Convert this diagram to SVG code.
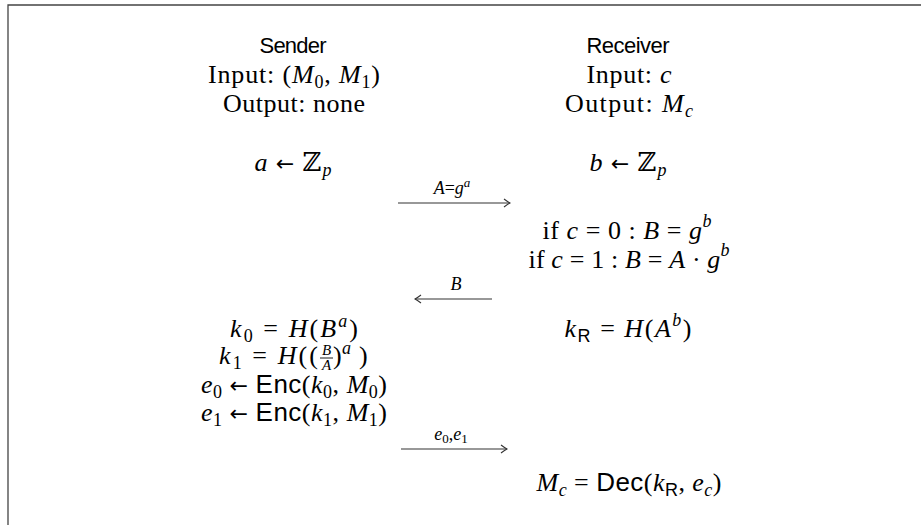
<svg xmlns="http://www.w3.org/2000/svg" width="921" height="525" viewBox="0 0 921 525">
<style>
text{font-family:"Liberation Serif","DejaVu Serif",serif;font-size:26px;fill:#000;text-anchor:middle}
.ss{font-family:"Liberation Sans","DejaVu Sans",sans-serif}
.ar{font-family:"DejaVu Sans",sans-serif;font-size:22px}
.it{font-style:italic}
.sub{font-size:18px}
.lbl{font-size:18px}
.lsub{font-size:13px}
.fr{font-size:15px;font-style:italic}
.st{text-anchor:start}
.arr{stroke:#333;stroke-width:1.1;fill:none}
.frame{stroke:#444;stroke-width:1.3;fill:none}
</style>
<defs>
<marker id="ah" markerWidth="10" markerHeight="10" refX="9" refY="5" orient="auto" markerUnits="userSpaceOnUse">
<path d="M3 1 Q7 4 9 5 Q7 6 3 9" fill="none" stroke="#333" stroke-width="1.1"/>
</marker>
</defs>
<path class="frame" d="M8 525 V5 H921"/>
<g id="sender-header">
<text x="293" y="53" class="ss" style="font-size:22px" textLength="67">Sender</text>
<text x="294" y="83" textLength="172">Input: (<tspan class="it">M</tspan><tspan class="sub" dy="5">0</tspan><tspan dy="-5">, </tspan><tspan class="it">M</tspan><tspan class="sub" dy="5">1</tspan><tspan dy="-5">)</tspan></text>
<text x="294" y="112" textLength="142">Output: none</text>
</g>
<g id="receiver-header">
<text x="628" y="53" class="ss" style="font-size:22px" textLength="83">Receiver</text>
<text x="629" y="83" textLength="85">Input: <tspan class="it">c</tspan></text>
<text x="629" y="112" textLength="128">Output: <tspan class="it">M</tspan><tspan class="sub it" dy="5">c</tspan></text>
</g>
<g id="sender-a">
<text x="293" y="171" textLength="77"><tspan class="it">a</tspan> <tspan class="ar">←</tspan> ℤ<tspan class="sub it" dy="5">p</tspan></text>
</g>
<g id="receiver-b">
<text x="628" y="171" textLength="77"><tspan class="it">b</tspan> <tspan class="ar">←</tspan> ℤ<tspan class="sub it" dy="5">p</tspan></text>
</g>
<g id="receiver-B">
<text x="627" y="239" textLength="169">if <tspan class="it">c</tspan> = 0 : <tspan class="it">B</tspan> = <tspan class="it">g</tspan><tspan class="sub it" dy="-12">b</tspan></text>
<text x="629" y="268" textLength="201">if <tspan class="it">c</tspan> = 1 : <tspan class="it">B</tspan> = <tspan class="it">A</tspan> · <tspan class="it">g</tspan><tspan class="sub it" dy="-12">b</tspan></text>
</g>
<g id="sender-keys">
<text x="294" y="337" textLength="128"><tspan class="it">k</tspan><tspan class="sub" dy="5">0</tspan><tspan dy="-5"> = </tspan><tspan class="it">H</tspan>(<tspan class="it">B</tspan><tspan class="sub it" dy="-10">a</tspan><tspan dy="10">)</tspan></text>
<text x="219" y="364" class="st" textLength="99"><tspan class="it">k</tspan><tspan class="sub" dy="5">1</tspan><tspan dy="-5"> = </tspan><tspan class="it">H</tspan>((</text>
<text x="326.5" y="355" class="fr">B</text>
<line x1="320" y1="358" x2="333" y2="358" stroke="#000" stroke-width="0.9"/>
<text x="326.5" y="370" class="fr">A</text>
<text x="333" y="364" class="st">)</text>
<text x="342" y="354" class="st it sub">a</text>
<text x="359" y="364" class="st">)</text>
<text x="294" y="393" textLength="186"><tspan class="it">e</tspan><tspan class="sub" dy="5">0</tspan><tspan dy="-5"> </tspan><tspan class="ar">←</tspan> <tspan class="ss">Enc</tspan>(<tspan class="it">k</tspan><tspan class="sub" dy="5">0</tspan><tspan dy="-5">, </tspan><tspan class="it">M</tspan><tspan class="sub" dy="5">0</tspan><tspan dy="-5">)</tspan></text>
<text x="294" y="421" textLength="186"><tspan class="it">e</tspan><tspan class="sub" dy="5">1</tspan><tspan dy="-5"> </tspan><tspan class="ar">←</tspan> <tspan class="ss">Enc</tspan>(<tspan class="it">k</tspan><tspan class="sub" dy="5">1</tspan><tspan dy="-5">, </tspan><tspan class="it">M</tspan><tspan class="sub" dy="5">1</tspan><tspan dy="-5">)</tspan></text>
</g>
<g id="receiver-key">
<text x="628" y="337" textLength="127"><tspan class="it">k</tspan><tspan class="sub ss" dy="5">R</tspan><tspan dy="-5"> = </tspan><tspan class="it">H</tspan>(<tspan class="it">A</tspan><tspan class="sub it" dy="-11">b</tspan><tspan dy="11">)</tspan></text>
</g>
<g id="receiver-output">
<text x="629" y="491" textLength="185"><tspan class="it">M</tspan><tspan class="sub it" dy="5">c</tspan><tspan dy="-5"> = </tspan><tspan class="ss">Dec</tspan>(<tspan class="it">k</tspan><tspan class="sub ss" dy="5">R</tspan><tspan dy="-5">, </tspan><tspan class="it">e</tspan><tspan class="sub it" dy="5">c</tspan><tspan dy="-5">)</tspan></text>
</g>
<g id="connectors">
<line class="arr" x1="398" y1="203" x2="510" y2="203" marker-end="url(#ah)"/>
<text x="452" y="194" class="lbl"><tspan class="it">A</tspan>=<tspan class="it">g</tspan><tspan class="lsub it" dy="-7">a</tspan></text>
<line class="arr" x1="492" y1="299" x2="415" y2="299" marker-end="url(#ah)"/>
<text x="456" y="290" class="lbl it">B</text>
<line class="arr" x1="401" y1="449" x2="507" y2="449" marker-end="url(#ah)"/>
<text x="451" y="440" class="lbl"><tspan class="it">e</tspan><tspan class="lsub" dy="3">0</tspan><tspan dy="-3">,</tspan><tspan class="it">e</tspan><tspan class="lsub" dy="3">1</tspan></text>
</g>
</svg>
